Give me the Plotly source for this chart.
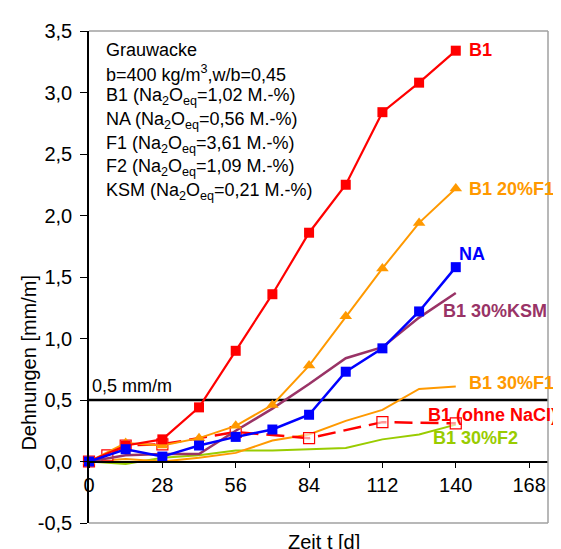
import plotly.graph_objects as go

days = [0, 14, 28, 42, 56, 70, 84, 98, 112, 126, 140]

b1 = [0, 0.13, 0.18, 0.44, 0.90, 1.36, 1.86, 2.25, 2.84, 3.08, 3.34]
b1_20f1 = [0, 0.15, 0.13, 0.19, 0.29, 0.46, 0.78, 1.18, 1.57, 1.94, 2.22]
na = [0, 0.10, 0.04, 0.13, 0.20, 0.26, 0.38, 0.73, 0.92, 1.22, 1.58]
b1_30ksm = [0, 0.05, 0.06, 0.06, 0.25, 0.43, 0.63, 0.84, 0.93, 1.17, 1.37]
b1_30f1 = [0, 0.02, 0.0, 0.03, 0.07, 0.17, 0.22, 0.33, 0.42, 0.59, 0.61]
b1_30f2 = [0, -0.02, 0.03, 0.05, 0.09, 0.09, 0.10, 0.11, 0.18, 0.22, 0.30]

days_ohne = [0, 7, 14, 28, 56, 84, 112, 140]
b1_ohne = [0, 0.05, 0.13, 0.14, 0.24, 0.19, 0.32, 0.31]

limit_x = [0, 175.2]
limit_y = [0.5, 0.5]

x_ticks = [0, 28, 56, 84, 112, 140, 168]
y_ticks = [-0.5, 0, 0.5, 1.0, 1.5, 2.0, 2.5, 3.0, 3.5]
y_tick_labels = ["-0,5", "0,0", "0,5", "1,0", "1,5", "2,0", "2,5", "3,0", "3,5"]

RED = "#FF0000"
ORANGE = "#FF9900"
BLUE = "#0000FF"
PURPLE = "#993366"
GREEN = "#99CC00"

fig = go.Figure()

fig.add_trace(go.Scatter(x=limit_x, y=limit_y, mode="lines",
                         line=dict(color="black", width=2.5), cliponaxis=False))
fig.add_trace(go.Scatter(x=days, y=b1_30f2, mode="lines",
                         line=dict(color=GREEN, width=2), cliponaxis=False))
fig.add_trace(go.Scatter(x=days, y=b1_30f1, mode="lines",
                         line=dict(color=ORANGE, width=2), cliponaxis=False))
fig.add_trace(go.Scatter(x=days_ohne, y=b1_ohne, mode="lines+markers",
                         line=dict(color=RED, width=2.5, dash="18px,8px"),
                         marker=dict(symbol="square", size=11, color="rgba(255,255,255,0.6)",
                                     line=dict(color=RED, width=1.2)),
                         cliponaxis=False))
fig.add_trace(go.Scatter(x=days, y=b1_30ksm, mode="lines",
                         line=dict(color=PURPLE, width=2.5), cliponaxis=False))
fig.add_trace(go.Scatter(x=days, y=b1_20f1, mode="lines+markers",
                         line=dict(color=ORANGE, width=2),
                         marker=dict(symbol="triangle-up", size=11, color=ORANGE),
                         cliponaxis=False))
fig.add_trace(go.Scatter(x=days, y=b1, mode="lines+markers",
                         line=dict(color=RED, width=2.2),
                         marker=dict(symbol="square", size=10, color=RED),
                         cliponaxis=False))
fig.add_trace(go.Scatter(x=days, y=na, mode="lines+markers",
                         line=dict(color=BLUE, width=2.5),
                         marker=dict(symbol="square", size=10, color=BLUE),
                         cliponaxis=False))

FONT = "Liberation Sans, Arial, sans-serif"

# plot area in reference pixels: x 89..548, y 23..523
PX0, PW, PY0, PH = 89, 459, 23, 500


def px(xp):
    return (xp - PX0) / PW


def py(yp):
    return (PY0 + PH - yp) / PH


ann = []
box_lines = [
    "Grauwacke",
    "b=400 kg/m<sup>3</sup>,w/b=0,45",
    "B1 (Na<sub>2</sub>O<sub>eq</sub>=1,02 M.-%)",
    "NA (Na<sub>2</sub>O<sub>eq</sub>=0,56 M.-%)",
    "F1 (Na<sub>2</sub>O<sub>eq</sub>=3,61 M.-%)",
    "F2 (Na<sub>2</sub>O<sub>eq</sub>=1,09 M.-%)",
    "KSM (Na<sub>2</sub>O<sub>eq</sub>=0,21 M.-%)",
]
ys_px = [42, 66, 90, 114, 138, 162, 186]
for t, ypx in zip(box_lines, ys_px):
    ann.append(dict(x=px(104), xref="paper", y=py(ypx), yref="paper",
                    text=t, showarrow=False, xanchor="left", yanchor="middle",
                    font=dict(family=FONT, size=18, color="black")))

labels = [
    ("B1", 467, 42, RED),
    ("B1 20%F1", 467, 184, ORANGE),
    ("NA", 457, 250, BLUE),
    ("B1 30%KSM", 441, 308, PURPLE),
    ("B1 30%F1", 467, 381, ORANGE),
    ("B1 (ohne NaCl)", 426, 413, RED),
    ("B1 30%F2", 431, 437, GREEN),
]
for t, xp, yp, c in labels:
    ann.append(dict(x=px(xp), xref="paper", y=py(yp), yref="paper",
                    text="<b>%s</b>" % t, showarrow=False, xanchor="left",
                    yanchor="middle", font=dict(family=FONT, size=18, color=c)))

ann.append(dict(x=px(90), xref="paper", y=py(384), yref="paper", text="0,5 mm/m",
                showarrow=False, xanchor="left", yanchor="middle",
                font=dict(family=FONT, size=18, color="black")))
ann.append(dict(x=px(29), xref="paper", y=py(360), yref="paper",
                text="Dehnungen [mm/m]", textangle=-90, showarrow=False,
                xanchor="center", yanchor="middle",
                font=dict(family=FONT, size=20, color="black")))
ann.append(dict(x=px(324), xref="paper", y=py(542), yref="paper",
                text="Zeit t [d]", showarrow=False, xanchor="center", yanchor="middle",
                font=dict(family=FONT, size=20, color="black")))

shapes = [
    dict(type="line", xref="paper", yref="paper", x0=0, x1=1, y0=1, y1=1,
         line=dict(color="#A0A0A0", width=1.5)),
    dict(type="line", xref="paper", yref="paper", x0=1, x1=1, y0=0, y1=1,
         line=dict(color="#A0A0A0", width=1.5)),
    dict(type="line", xref="paper", yref="paper", x0=0, x1=1, y0=0, y1=0,
         line=dict(color="#A0A0A0", width=1.5)),
]

# the page body has an 8px default margin; compensate so the plot sits where the reference is
fig.update_layout(
    width=553, height=541,
    margin=dict(l=81, r=13, t=15, b=26),
    plot_bgcolor="white", paper_bgcolor="white",
    showlegend=False,
    separators=", ",
    font=dict(family=FONT, size=20, color="black"),
    annotations=ann, shapes=shapes,
    xaxis=dict(range=[0, 175.2], tickvals=x_ticks, ticks="outside", ticklen=6,
               tickcolor="black", showline=True, linecolor="black", linewidth=1.5,
               showgrid=False, zeroline=False, anchor="free", position=0.125,
               tickfont=dict(family=FONT, size=20)),
    yaxis=dict(range=[-0.5, 3.5], tickvals=y_ticks, ticktext=y_tick_labels,
               ticks="outside", ticklen=7, tickcolor="black", showline=True,
               linecolor="black", linewidth=1.5, showgrid=False, zeroline=False,
               ticklabelstandoff=4, tickfont=dict(family=FONT, size=20)),
)

fig.write_html("out.html")
